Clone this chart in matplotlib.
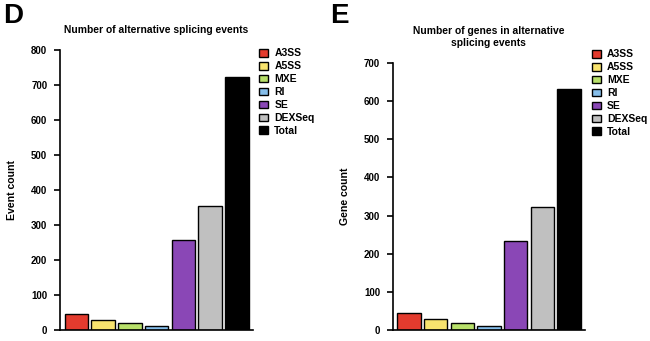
import matplotlib.pyplot as plt
import numpy as np

plt.rcParams['font.family'] = ['Liberation Sans', 'DejaVu Sans']
plt.rcParams['font.weight'] = 'bold'

categories = ['A3SS', 'A5SS', 'MXE', 'RI', 'SE', 'DEXSeq', 'Total']
event_counts = [45, 30, 20, 11, 258, 354, 724]
gene_counts = [45, 28, 18, 11, 234, 322, 630]
colors = ['#E33B2E', '#F8E36E', '#B8E06A', '#86BEEA', '#8A47B6', '#C0C0C0', '#000000']

fig = plt.figure(figsize=(6.5, 3.41), dpi=100)


def draw_panel(rect, values, ymax, title, ylabel, legend_xy):
    ax = fig.add_axes(rect)
    x = np.arange(len(values))
    bars = ax.bar(x, values, width=0.88, color=colors, edgecolor='black', linewidth=1.0)
    ax.set_xlim(-0.62, 6.6)
    ax.set_ylim(0, ymax)
    ax.set_yticks(np.arange(0, ymax + 1, 100))
    ax.set_xticks([])
    ax.spines['top'].set_visible(False)
    ax.spines['right'].set_visible(False)
    ax.spines['left'].set_linewidth(1.2)
    ax.spines['bottom'].set_linewidth(1.2)
    ax.tick_params(axis='y', labelsize=7, length=4, width=1.2, pad=5)
    for lbl in ax.get_yticklabels():
        lbl.set_fontweight('bold')
    ax.set_ylabel(ylabel, fontsize=7.6, fontweight='bold', labelpad=10)
    ax.set_title(title, fontsize=7.4, fontweight='bold', pad=12)
    leg = ax.legend(bars, categories, loc='upper left', bbox_to_anchor=legend_xy,
                    bbox_transform=fig.transFigure, frameon=False, fontsize=7.5,
                    handlelength=0.9, handleheight=0.75, handletextpad=0.6,
                    labelspacing=0.28, borderpad=0, borderaxespad=0)
    for t in leg.get_texts():
        t.set_fontweight('bold')
    return ax


draw_panel([0.092, 0.032, 0.297, 0.821], event_counts, 800,
           'Number of alternative splicing events', 'Event count', (0.398, 0.858))
draw_panel([0.604, 0.032, 0.296, 0.784], gene_counts, 700,
           'Number of genes in alternative\nsplicing events', 'Gene count', (0.910, 0.855))

fig.text(0.005, 0.99, 'D', fontsize=20, fontweight='bold', va='top', ha='left')
fig.text(0.508, 0.99, 'E', fontsize=20, fontweight='bold', va='top', ha='left')

plt.savefig('out.png', dpi=100)
